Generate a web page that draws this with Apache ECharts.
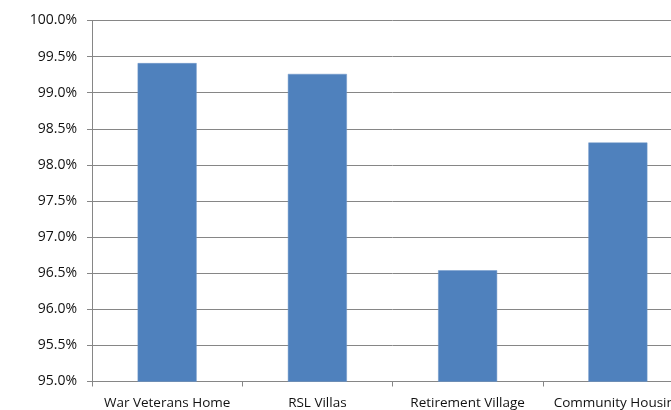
<!DOCTYPE html>
<html>
<head>
<meta charset="utf-8">
<script src="https://cdn.jsdelivr.net/npm/echarts@6/dist/echarts.min.js"></script>
<style>html,body{margin:0;padding:0;background:#fff;overflow:hidden;width:671px;height:410px;}#c{width:700px;height:410px;}</style>
</head>
<body>
<div id="c"></div>
<script>
var categories = ['War Veterans Home', 'RSL Villas', 'Retirement Village', 'Community Housing'];
var values = [99.41, 99.26, 96.54, 98.31];
var yMin = 95, yMax = 100, yStep = 0.5;

var chart = echarts.init(document.getElementById('c'), null, {renderer: 'canvas'});
chart.setOption({
  animation: false,
  grid: {left: 92, top: 20.5, right: 7, bottom: 28.5, containLabel: false, outerBoundsMode: 'none'},
  xAxis: {
    type: 'category',
    data: categories,
    axisLine: {lineStyle: {color: '#868686', width: 1}},
    axisTick: {show: true, length: 5, lineStyle: {color: '#868686'}},
    axisLabel: {color: '#111', fontFamily: 'Open Sans', fontSize: 13.5, margin: 15, interval: 0}
  },
  yAxis: {
    type: 'value',
    min: yMin, max: yMax, interval: yStep,
    axisLine: {show: true, lineStyle: {color: '#868686', width: 1}},
    axisTick: {show: true, length: 5, lineStyle: {color: '#868686'}},
    splitLine: {lineStyle: {color: '#868686', width: 1}},
    axisLabel: {color: '#111', fontFamily: 'Open Sans', fontSize: 14, margin: 15,
      formatter: function (v) { return v.toFixed(1) + '%'; }}
  },
  series: [{
    type: 'bar',
    data: values,
    barWidth: 59,
    itemStyle: {color: '#4F81BD', borderColor: '#6f97c9', borderWidth: 0.5}
  }]
});
</script>
</body>
</html>
